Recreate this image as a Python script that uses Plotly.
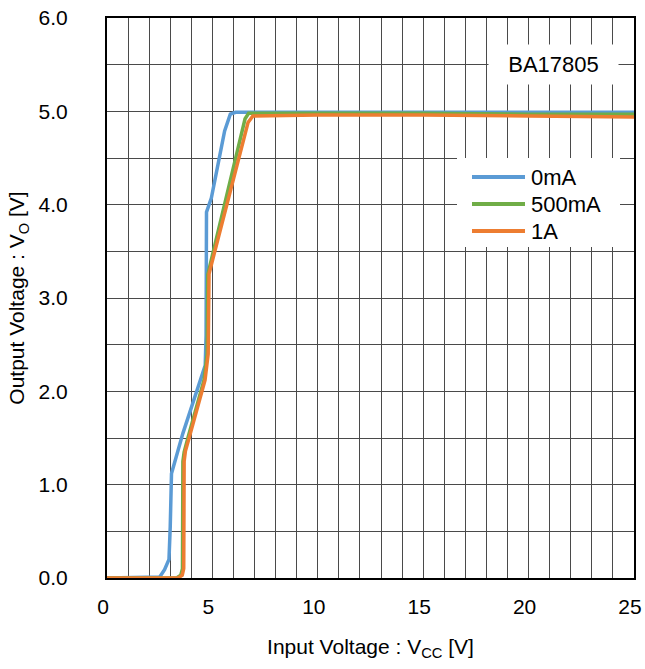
import plotly.graph_objects as go

# ---- data ----
series_names = ["0mA", "500mA", "1A"]
series_colors = ["#5B9BD5", "#70AD47", "#ED7D31"]

vin_0mA = [0, 2.5, 2.73, 2.94, 3.0, 3.06, 3.6, 4.08, 4.5, 4.66, 4.7, 4.72, 4.95, 5.58, 5.85, 6.1, 10, 15, 20, 25]
vo_0mA = [0, 0.01, 0.09, 0.2, 0.55, 1.12, 1.55, 1.87, 2.15, 2.28, 2.6, 3.92, 4.07, 4.79, 4.97, 4.99, 4.99, 4.99, 4.99, 4.99]

vin_500mA = [0, 3.3, 3.5, 3.58, 3.6, 3.66, 3.86, 4.6, 4.75, 4.78, 6.55, 6.72, 10, 15, 20, 25]
vo_500mA = [0, 0, 0.03, 0.1, 1.25, 1.35, 1.52, 2.12, 2.4, 3.25, 4.92, 4.98, 4.98, 4.98, 4.97, 4.97]

vin_1A = [0, 3.37, 3.57, 3.64, 3.66, 3.72, 3.92, 4.65, 4.8, 4.84, 6.69, 6.92, 10, 15, 20, 25]
vo_1A = [0, 0, 0.03, 0.1, 1.25, 1.36, 1.52, 2.12, 2.4, 3.26, 4.88, 4.95, 4.96, 4.96, 4.95, 4.94]

x_ticks = [0, 5, 10, 15, 20, 25]
y_ticks = [0, 1, 2, 3, 4, 5, 6]
y_tick_labels = ["0.0", "1.0", "2.0", "3.0", "4.0", "5.0", "6.0"]
device_label = "BA17805"

xs = [vin_0mA, vin_500mA, vin_1A]
ys = [vo_0mA, vo_500mA, vo_1A]

FONT = "Liberation Sans, Arial, sans-serif"
GRID = "#4a4a4a"

# body margin is removed in the page (post_script), so page px == figure px
W, H = 645, 669
PL, PR, PT, PB = 107, 634, 18, 578
ML, MT, MR, MB = PL, PT, W - PR, H - PB
PW, PH = PR - PL, PB - PT


def page_to_paper(px, py):
    return (px - PL) / PW, (PB - py) / PH


fig = go.Figure()
for name, color, x, y in zip(series_names, series_colors, xs, ys):
    fig.add_trace(go.Scatter(x=x, y=y, mode="lines", name=name,
                             line=dict(color=color, width=3.5)))

# custom legend box (white background, sample lines and labels)
shapes = []
annotations = []
bx0, by0 = page_to_paper(457, 247)
bx1, by1 = page_to_paper(620, 158)
shapes.append(dict(type="rect", xref="paper", yref="paper",
                   x0=bx0, x1=bx1, y0=by0, y1=by1,
                   fillcolor="white", line=dict(width=0), layer="above"))
row0, row_gap = 177, 27
for i, (name, color) in enumerate(zip(series_names, series_colors)):
    ry = row0 + i * row_gap
    lx0, ly = page_to_paper(472, ry)
    lx1, _ = page_to_paper(525, ry)
    tx, _ = page_to_paper(529, ry)
    shapes.append(dict(type="line", xref="paper", yref="paper",
                       x0=lx0, x1=lx1, y0=ly, y1=ly, layer="above",
                       line=dict(color=color, width=4)))
    annotations.append(dict(x=tx, y=ly, xref="paper", yref="paper",
                            text=name, showarrow=False,
                            xanchor="left", yanchor="middle",
                            font=dict(size=22, family=FONT, color="black")))

annotations.append(dict(
    x=21.2, y=5.5, xref="x", yref="y", text=device_label,
    showarrow=False, bgcolor="white", width=127, height=37,
    font=dict(size=22, family=FONT, color="black"),
))

fig.update_layout(
    width=W, height=H,
    margin=dict(l=ML, r=MR, t=MT, b=MB, autoexpand=False),
    paper_bgcolor="white", plot_bgcolor="white",
    font=dict(family=FONT, size=21, color="black"),
    showlegend=False,
    shapes=shapes,
    annotations=annotations,
)

fig.update_xaxes(
    range=[0, 25], tickvals=x_ticks, ticks="",
    showline=True, linecolor="black", linewidth=2, mirror=True,
    showgrid=True, gridcolor=GRID, gridwidth=1,
    minor=dict(dtick=1, tick0=0, showgrid=True, gridcolor=GRID, gridwidth=1),
    zeroline=False, ticklabelstandoff=9, ticklabelshift=-4, automargin=False,
    ticklabeloverflow="allow",
    title=dict(text="Input Voltage : V<sub>CC</sub> [V]", standoff=22,
               font=dict(size=21, family=FONT)),
)
fig.update_yaxes(
    range=[0, 6], tickvals=y_ticks, ticktext=y_tick_labels, ticks="",
    showline=True, linecolor="black", linewidth=2, mirror=True,
    showgrid=True, gridcolor=GRID, gridwidth=1,
    minor=dict(dtick=0.5, tick0=0, showgrid=True, gridcolor=GRID, gridwidth=1),
    zeroline=False, ticklabelstandoff=33, automargin=False,
    ticklabeloverflow="allow",
    title=dict(text="Output Voltage : V<sub>O</sub> [V]", standoff=8,
               font=dict(size=21, family=FONT)),
)

fig.write_html(
    "out.html",
    config={"displayModeBar": False},
    post_script="document.body.style.margin='0';document.body.style.overflow='hidden';",
)
